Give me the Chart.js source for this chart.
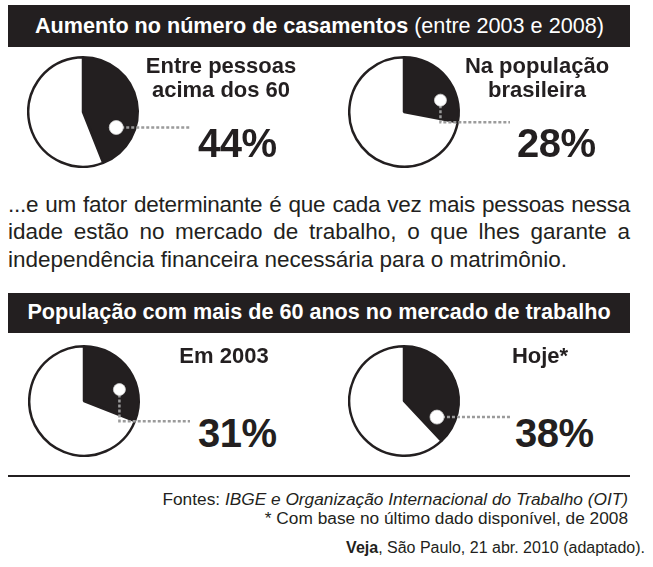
<!DOCTYPE html>
<html>
<head>
<meta charset="utf-8">
<script src="https://cdn.jsdelivr.net/npm/chart.js@4"></script>
<style>
  body { margin: 0; width: 653px; height: 567px; background: #fff; position: relative; overflow: hidden;
         font-family: "Liberation Sans", Arial, sans-serif; color: #231f20; }
  .abs { position: absolute; }
  .bar { background: #231f20; color: #fff; }
  .lbl { font-weight: bold; font-size: 22px; line-height: 24px; text-align: center; width: 170px; }
  .pct { font-weight: bold; font-size: 40px; line-height: 40px; letter-spacing: -0.5px; }
  .par div { text-align: justify; text-align-last: justify; white-space: nowrap; }
  .foot { font-size: 17.3px; line-height: 19px; text-align: right; }
</style>
</head>
<body>

<div class="abs bar" style="left:8px;top:5px;width:622px;height:42px;"></div>
<div class="abs" style="left:35px;top:15px;font-size:21.6px;line-height:21.6px;color:#fff;white-space:nowrap;">
  <b id="head1"></b> <span id="head1b"></span>
</div>

<div class="abs bar" style="left:8px;top:293px;width:622px;height:40px;"></div>
<div class="abs" id="head2" style="left:8px;width:622px;top:300.5px;font-size:21.6px;line-height:21.6px;font-weight:bold;color:#fff;text-align:center;white-space:nowrap;"></div>

<div class="abs par" style="left:8px;top:190.5px;width:622px;font-size:22.5px;line-height:27.5px;">
  <div style="letter-spacing:-0.25px;">...e um fator determinante é que cada vez mais pessoas nessa</div>
  <div>idade estão no mercado de trabalho, o que lhes garante a</div>
  <div style="text-align-last:left;">independência financeira necessária para o matrimônio.</div>
</div>

<div class="abs" style="left:8px;top:475px;width:622px;height:2px;background:#231f20;"></div>
<div class="abs foot" style="right:25px;top:489.5px;white-space:nowrap;">
  <div>Fontes: <i>IBGE e Organização Internacional do Trabalho (OIT)</i></div>
  <div>* Com base no último dado disponível, de 2008</div>
</div>
<div class="abs foot" style="right:8px;top:538px;font-size:16px;white-space:nowrap;"><b>Veja</b>, São Paulo, 21 abr. 2010 (adaptado).</div>

<div id="pies"></div>

<script>
// data
var headTitle = 'Aumento no número de casamentos';
var headPeriod = '(entre 2003 e 2008)';
var headWork = 'População com mais de 60 anos no mercado de trabalho';
var pieLabels = [['Entre pessoas', 'acima dos 60'], ['Na população', 'brasileira'], ['Em 2003'], ['Hoje*']];
var pieValues = [44, 28, 31, 38];

document.getElementById('head1').textContent = headTitle;
document.getElementById('head1b').textContent = headPeriod;
document.getElementById('head2').textContent = headWork;

// layout of each pie block (left edge, top, label centre, pct left, dot angle from top, dot radius frac, elbow)
var boxes = [
  { left: 27,  top: 56,  w: 163, h: 112, lblX: 221, lblTop: 54,  pctX: 198, pctTop: 123, dotAng: 115, dotR: 0.67, dotSize: 7, elbow: false },
  { left: 348, top: 56,  w: 162, h: 112, lblX: 537, lblTop: 54,  pctX: 517, pctTop: 123, dotAng: 72,  dotR: 0.70, dotSize: 6, elbow: true },
  { left: 28,  top: 345, w: 162, h: 112, lblX: 224, lblTop: 344, pctX: 198, pctTop: 413, dotAng: 72,  dotR: 0.68, dotSize: 6, elbow: true },
  { left: 348, top: 345, w: 162, h: 112, lblX: 540, lblTop: 344, pctX: 515, pctTop: 413, dotAng: 116, dotR: 0.67, dotSize: 7, elbow: false }
];

var leader = {
  id: 'leader',
  afterDraw: function(chart, args, opts) {
    var arc = chart.getDatasetMeta(0).data[0];
    var ctx = chart.ctx;
    var a = -Math.PI / 2 + opts.ang * Math.PI / 180;
    var dx = arc.x + arc.outerRadius * opts.r * Math.cos(a);
    var dy = arc.y + arc.outerRadius * opts.r * Math.sin(a);
    var ey = arc.y + arc.outerRadius * Math.sin(arc.endAngle);
    ctx.save();
    ctx.strokeStyle = '#9b9b9b';
    ctx.lineWidth = 2.5;
    ctx.setLineDash([3, 2]);
    ctx.beginPath();
    if (opts.elbow) {
      ctx.moveTo(dx, dy);
      ctx.lineTo(dx, ey);
      ctx.lineTo(chart.width, ey);
    } else {
      ctx.moveTo(dx, dy);
      ctx.lineTo(chart.width, dy);
    }
    ctx.stroke();
    ctx.setLineDash([]);
    ctx.fillStyle = '#fff';
    ctx.strokeStyle = '#d0d0d0';
    ctx.lineWidth = 0.8;
    ctx.beginPath();
    ctx.arc(dx, dy, opts.size, 0, Math.PI * 2);
    ctx.fill();
    ctx.stroke();
    ctx.restore();
  }
};

var holder = document.getElementById('pies');
pieValues.forEach(function(v, i) {
  var b = boxes[i];
  var wrap = document.createElement('div');
  wrap.className = 'abs';
  wrap.style.cssText = 'left:' + b.left + 'px;top:' + b.top + 'px;width:' + b.w + 'px;height:' + b.h + 'px;';
  var cv = document.createElement('canvas');
  wrap.appendChild(cv);
  holder.appendChild(wrap);

  var lbl = document.createElement('div');
  lbl.className = 'abs lbl';
  lbl.style.left = (b.lblX - 85) + 'px';
  lbl.style.top = b.lblTop + 'px';
  lbl.innerHTML = pieLabels[i].join('<br>');
  holder.appendChild(lbl);

  var pct = document.createElement('div');
  pct.className = 'abs pct';
  pct.style.left = b.pctX + 'px';
  pct.style.top = b.pctTop + 'px';
  pct.textContent = v + '%';
  holder.appendChild(pct);

  new Chart(cv, {
    type: 'pie',
    data: {
      labels: ['sim', 'não'],
      datasets: [{
        data: [v, 100 - v],
        backgroundColor: ['#231f20', '#ffffff'],
        borderColor: '#231f20',
        borderWidth: 2.5
      }]
    },
    options: {
      responsive: true,
      maintainAspectRatio: false,
      animation: false,
      layout: { padding: { right: b.w - b.h } },
      plugins: {
        legend: { display: false },
        tooltip: { enabled: false },
        leader: { ang: b.dotAng, r: b.dotR, size: b.dotSize, elbow: b.elbow }
      }
    },
    plugins: [leader]
  });
});
</script>
</body>
</html>
